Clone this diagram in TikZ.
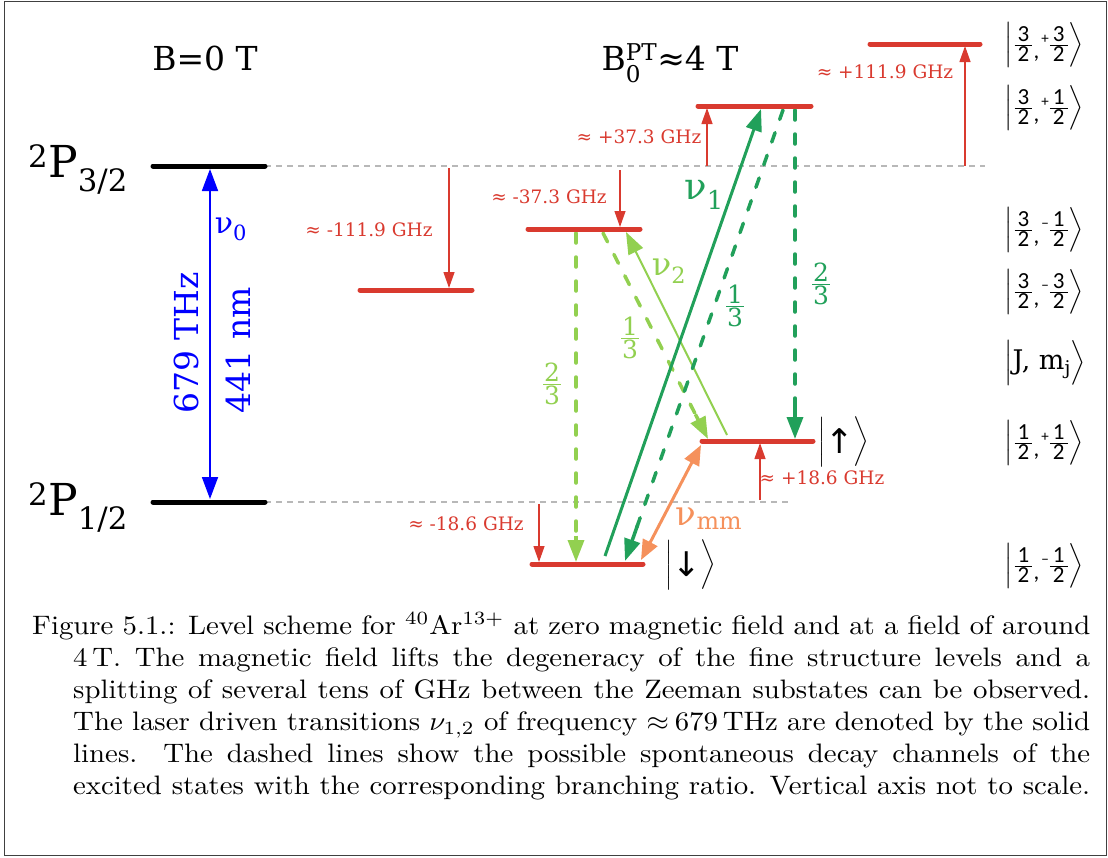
\documentclass[tikz,border=0pt]{standalone}
\usepackage{fontspec}
\usepackage{amsmath}
\usepackage{graphicx}
\usetikzlibrary{arrows.meta,calc}
\newfontfamily\df{DejaVu Serif}
\newfontfamily\dvs{DejaVu Sans}
\newfontfamily\kf{Carlito}
\definecolor{lvred}{HTML}{D93A2F}
\definecolor{dgreen}{HTML}{21A05A}
\definecolor{lgreen}{HTML}{92D050}
\definecolor{mmorange}{HTML}{F5915C}
\definecolor{guidegray}{HTML}{B8B8B8}
\newcommand{\kfr}[2]{\genfrac{}{}{0.9pt}{1}{\hbox{\kf\kern3pt #1\kern3pt}}{\hbox{\kf\kern3pt #2\kern3pt}}}
\newcommand{\myket}[3]{$\left|\kern1pt\kfr{#1}{2}\hbox{\kf\raisebox{-7pt}{,}}\kern2pt\hbox{\kf\fontsize{15}{15}\selectfont\raisebox{8pt}{#2}}\kfr{#3}{2}\right\rangle$}
\newcommand{\dfr}[2]{$\genfrac{}{}{1.1pt}{1}{\hbox{\df\kern1pt #1\kern1pt}}{\hbox{\df\kern1pt #2\kern1pt}}$}
\newcommand{\spinket}[1]{$\bigg|\hbox{\dvs\fontsize{34}{34}\selectfont\raisebox{-6pt}{#1}}\bigg\rangle$}
\begin{document}
\begin{tikzpicture}[x=1pt,y=-1pt,
  lev/.style={line width=5pt,line cap=round},
  blk/.style={lev,draw=black},
  rlev/.style={lev,draw=lvred},
  guide/.style={draw=guidegray,line width=1.2pt,dash pattern=on 6pt off 5pt},
  shiftarr/.style={draw=lvred,line width=1.3pt,-{Triangle[width=11pt,length=16pt]}},
  shiftlbl/.style={text=lvred,font=\df\fontsize{18.5}{20}\selectfont,inner sep=0pt},
  bigarr/.style={-{Triangle[width=16pt,length=22pt]}},
  dsh/.style={line width=3.5pt,line cap=round,dash pattern=on 10pt off 14pt},
  lbl/.style={inner sep=0pt},
  ketlbl/.style={font=\fontsize{23}{27}\selectfont,inner sep=0pt,anchor=west},
  fr/.style={font=\fontsize{25}{28}\selectfont,inner sep=0pt}
]
\useasboundingbox (0,0) rectangle (1108,857);
\draw[draw=black!75,line width=1pt] (4.5,1.5) rectangle (1106.5,855.5);

% headings
\node[lbl,anchor=base,font=\df\fontsize{33}{38}\selectfont] (h0) at (205,70) {B=0 T};
\node[lbl,anchor=base,font=\df\fontsize{33}{38}\selectfont] (h4) at (670,70) {B$^{\text{PT}}_{\text{0}}$≈4 T};

% fine-structure levels
\node[lbl,anchor=base west,font=\df\fontsize{44}{48}\selectfont] (lP32) at (28,177) {\textsuperscript{2}P$_{\text{3/2}}$};
\node[lbl,anchor=base west,font=\df\fontsize{44}{48}\selectfont] (lP12) at (28,515) {\textsuperscript{2}P$_{\text{1/2}}$};
\coordinate (p32L) at (153,166); \coordinate (p32R) at (265,166);
\coordinate (p12L) at (153,502); \coordinate (p12R) at (265,502);
\coordinate (g32E) at (985,166);
\coordinate (g12E) at (790,502);
\draw[guide] (p32R) -- (g32E);
\draw[guide] (p12R) -- (g12E);
\draw[blk] (p32L) -- (p32R);
\draw[blk] (p12L) -- (p12R);

% nu0
\coordinate (n0t) at (210,169); \coordinate (n0b) at (210,499);
\draw[blue,line width=1.8pt,{Triangle[width=16pt,length=22pt]}-{Triangle[width=16pt,length=22pt]}] (n0t) -- (n0b);
\node[lbl,text=blue,font=\df\fontsize{30}{34}\selectfont] (nu0) at (231,229) {ν$_{\text{0}}$};
\node[lbl,text=blue,rotate=90,font=\df\fontsize{33}{38}\selectfont] (thz) at (186,343) {679 THz};
\node[lbl,text=blue,rotate=90,font=\df\fontsize{33}{38}\selectfont] (nm) at (238,350) {441 nm};

% Zeeman levels
\coordinate (a1) at (870,44);  \coordinate (a2) at (980,44);
\coordinate (b1) at (698,106); \coordinate (b2) at (811,106);
\coordinate (c1) at (528,229); \coordinate (c2) at (640,229);
\coordinate (d1) at (360,290); \coordinate (d2) at (472,290);
\coordinate (e1) at (702,441); \coordinate (e2) at (813,441);
\coordinate (f1) at (532,564); \coordinate (f2) at (643,564);

% shift arrows
\coordinate (s1a) at (449,168); \coordinate (s1b) at (449,288);
\coordinate (s2a) at (620,170); \coordinate (s2b) at (620,227);
\coordinate (s3a) at (707,166); \coordinate (s3b) at (707,108);
\coordinate (s4a) at (965,166); \coordinate (s4b) at (965,46);
\coordinate (s5a) at (760,500); \coordinate (s5b) at (760,443);
\coordinate (s6a) at (539,504); \coordinate (s6b) at (539,562);
\draw[shiftarr] (s1a) -- (s1b);
\draw[shiftarr] (s2a) -- (s2b);
\draw[shiftarr] (s3a) -- (s3b);
\draw[shiftarr] (s4a) -- (s4b);
\draw[shiftarr] (s5a) -- (s5b);
\draw[shiftarr] (s6a) -- (s6b);
\node[shiftlbl] (t1) at (369,230) {≈ -111.9 GHz};
\node[shiftlbl] (t2) at (549,197) {≈ -37.3 GHz};
\node[shiftlbl] (t3) at (639,137) {≈ +37.3 GHz};
\node[shiftlbl] (t4) at (885,72) {≈ +111.9 GHz};
\node[shiftlbl] (t5) at (822,478) {≈ +18.6 GHz};
\node[shiftlbl] (t6) at (466,524) {≈ -18.6 GHz};

% transitions
\coordinate (v1a) at (605,556); \coordinate (v1b) at (761,109);
\coordinate (q1a) at (783,110); \coordinate (q1b) at (625,561);
\coordinate (q2a) at (795,110); \coordinate (q2b) at (795,439);
\coordinate (v2a) at (727,435); \coordinate (v2b) at (626,232);
\coordinate (q3a) at (603,233); \coordinate (q3b) at (708,439);
\coordinate (q4a) at (576,233); \coordinate (q4b) at (576,562);
\coordinate (mma) at (641,560); \coordinate (mmb) at (701,445);

\draw[lgreen,dsh] (q4a) -- ($(q4a)!0.93!(q4b)$);
\draw[lgreen,line width=3.5pt,bigarr] ($(q4a)!0.92!(q4b)$) -- (q4b);
\draw[lgreen,dsh] (q3a) -- ($(q3a)!0.9!(q3b)$);
\draw[lgreen,line width=3.5pt,bigarr] ($(q3a)!0.88!(q3b)$) -- (q3b);
\draw[lgreen,line width=2pt,bigarr] (v2a) -- (v2b);
\draw[dgreen,line width=3pt,bigarr] (v1a) -- (v1b);
\draw[dgreen,dsh] (q1a) -- ($(q1a)!0.93!(q1b)$);
\draw[dgreen,line width=3.5pt,bigarr] ($(q1a)!0.92!(q1b)$) -- (q1b);
\draw[dgreen,dsh] (q2a) -- ($(q2a)!0.92!(q2b)$);
\draw[dgreen,line width=3.5pt,bigarr] ($(q2a)!0.9!(q2b)$) -- (q2b);
\draw[mmorange,line width=3pt,{Triangle[width=16pt,length=20pt]}-{Triangle[width=16pt,length=20pt]}] (mma) -- (mmb);

\draw[rlev] (a1) -- (a2);
\draw[rlev] (b1) -- (b2);
\draw[rlev] (c1) -- (c2);
\draw[rlev] (d1) -- (d2);
\draw[rlev] (e1) -- (e2);
\draw[rlev] (f1) -- (f2);

\node[lbl,text=dgreen,font=\df\fontsize{37}{40}\selectfont] (nu1) at (704,195) {ν$_{\text{1}}$};
\node[lbl,text=lgreen,font=\df\fontsize{32}{36}\selectfont] (nu2) at (669,271) {ν$_{\text{2}}$};
\node[lbl,text=mmorange,font=\df\fontsize{34}{38}\selectfont] (numm) at (709,519) {ν$_{\text{mm}}$};
\node[fr,text=dgreen] (fa) at (821,284) {\dfr{2}{3}};
\node[fr,text=dgreen] (fb) at (735,306) {\dfr{1}{3}};
\node[fr,text=lgreen] (fc) at (630,338) {\dfr{1}{3}};
\node[fr,text=lgreen] (fd) at (552,384) {\dfr{2}{3}};

% kets
\node[ketlbl,font=\fontsize{21}{25}\selectfont] (kup) at (818,442) {\spinket{↑}};
\node[ketlbl,font=\fontsize{21}{25}\selectfont] (kdn) at (665,565) {\spinket{↓}};
\node[ketlbl] (k1) at (1004,45) {\myket{3}{+}{3}};
\node[ketlbl] (k2) at (1004,108) {\myket{3}{+}{1}};
\node[ketlbl] (k3) at (1004,230) {\myket{3}{−}{1}};
\node[ketlbl] (k4) at (1004,292) {\myket{3}{−}{3}};
\node[ketlbl,font=\df\fontsize{27}{30}\selectfont] (k5) at (1004,363) {$\Big|$J, m$_{\text{j}}$$\Big\rangle$};
\node[ketlbl] (k6) at (1004,443) {\myket{1}{+}{1}};
\node[ketlbl] (k7) at (1004,566) {\myket{1}{−}{1}};

% caption
\node[inner sep=0pt,anchor=base west] (cap) at (32,634) {\scalebox{2.88}[2.67]{\fontsize{10}{12}\selectfont\parbox[t]{367.4pt}{%
\makebox[367.4pt][s]{Figure 5.1.: Level scheme for $^{40}$Ar$^{13+}$ at zero magnetic field and at a field of around}\\
\hspace*{14.24pt}\makebox[353.1pt][s]{4\,T. The magnetic field lifts the degeneracy of the fine structure levels and a}\\
\hspace*{14.24pt}\makebox[353.1pt][s]{splitting of several tens of GHz between the Zeeman substates can be observed.}\\
\hspace*{14.24pt}\makebox[353.1pt][s]{The laser driven transitions $\nu_{1,2}$ of frequency $\approx$\kern2pt679\,THz are denoted by the solid}\\
\hspace*{14.24pt}\makebox[353.1pt][s]{lines. The dashed lines show the possible spontaneous decay channels of the}\\
\hspace*{14.24pt}\makebox[353.1pt][s]{excited states with the corresponding branching ratio. Vertical axis not to scale.}}}};
\end{tikzpicture}
\end{document}
